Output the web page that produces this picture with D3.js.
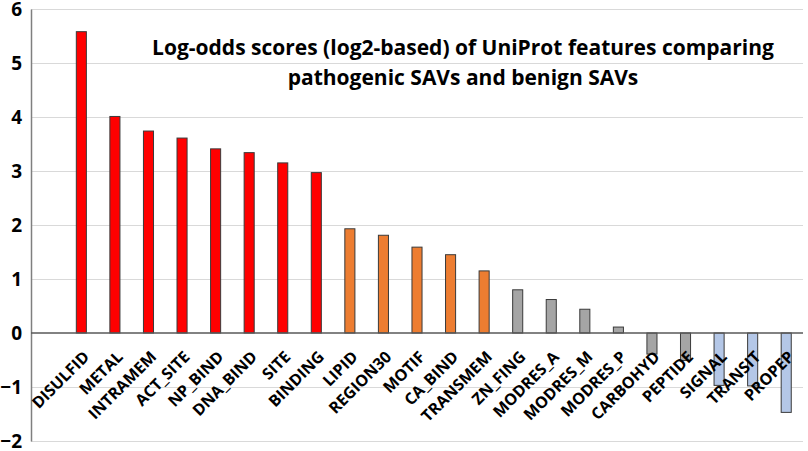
<!DOCTYPE html>
<html>
<head>
<meta charset="utf-8">
<script src="https://cdn.jsdelivr.net/npm/d3@7"></script>
<style>
  body { margin: 0; background: #fff; }
  text { font-family: "Open Sans", sans-serif; font-weight: bold; fill: #000; }
</style>
</head>
<body>
<script>
// features, ordered as in the figure
var features = ["DISULFID", "METAL", "INTRAMEM", "ACT_SITE", "NP_BIND", "DNA_BIND", "SITE", "BINDING",
                "LIPID", "REGION30", "MOTIF", "CA_BIND", "TRANSMEM",
                "ZN_FING", "MODRES_A", "MODRES_M", "MODRES_P", "CARBOHYD", "PEPTIDE",
                "SIGNAL", "TRANSIT", "PROPEP"];
// log2 odds
var scores = [5.58, 4.01, 3.74, 3.61, 3.41, 3.34, 3.15, 2.97,
              1.93, 1.81, 1.59, 1.45, 1.15,
              0.80, 0.62, 0.44, 0.11, -0.39, -0.51,
              -0.97, -0.98, -1.47];
// colour group of each bar
var groups = ["high", "high", "high", "high", "high", "high", "high", "high",
              "mid", "mid", "mid", "mid", "mid",
              "low", "low", "low", "low", "low", "low",
              "neg", "neg", "neg"];
var yTicks = [-2, -1, 0, 1, 2, 3, 4, 5, 6];
var titleLines = ["Log-odds scores (log2-based) of UniProt features comparing",
                  "pathogenic SAVs and benign SAVs"];

var W = 808, H = 451;
var plotLeft = 31, plotRight = 803, plotTop = 9, plotBottom = 441;
var bandW = (plotRight - plotLeft) / (features.length + 1);

var groupColor = {high: "#ff0000", mid: "#ed7d31", low: "#a5a5a5", neg: "#b4c7e7"};

var data = features.map((f, i) => ({name: f, value: scores[i], group: groups[i]}));

var svg = d3.select("body").append("svg")
    .attr("width", W)
    .attr("height", H);

var x = d3.scaleBand()
    .domain(features)
    .range([plotLeft + bandW, plotRight])
    .paddingInner(0.7)
    .paddingOuter(0.35);

var y = d3.scaleLinear()
    .domain([-2, 6])
    .range([plotBottom, plotTop]);

// gridlines
svg.append("g")
    .selectAll("line")
    .data(yTicks.filter(t => t !== 0))
    .join("line")
    .attr("x1", plotLeft)
    .attr("x2", plotRight)
    .attr("y1", d => y(d) + 0.5)
    .attr("y2", d => y(d) + 0.5)
    .attr("stroke", "#d9d9d9")
    .attr("stroke-width", 1);

// y axis
var yAxis = svg.append("g")
    .attr("transform", "translate(" + plotLeft + ",0)")
    .call(d3.axisLeft(y).tickValues(yTicks).tickSize(0).tickPadding(9));
yAxis.select(".domain").attr("stroke", "#7f7f7f").attr("stroke-width", 1.5);
yAxis.selectAll("text")
    .style("font-size", "19px")
    .style("font-family", "Open Sans, sans-serif")
    .style("font-weight", "bold")
    .attr("fill", "#000");

// bars
svg.append("g")
    .selectAll("rect")
    .data(data)
    .join("rect")
    .attr("x", d => x(d.name))
    .attr("width", x.bandwidth())
    .attr("y", d => y(Math.max(0, d.value)))
    .attr("height", d => Math.abs(y(d.value) - y(0)))
    .attr("fill", d => groupColor[d.group])
    .attr("stroke", "#3a3a3a")
    .attr("stroke-width", 1);

// zero line
svg.append("line")
    .attr("x1", plotLeft)
    .attr("x2", plotRight)
    .attr("y1", y(0))
    .attr("y2", y(0))
    .attr("stroke", "#595959")
    .attr("stroke-width", 1.5);

// category labels, rotated
svg.append("g")
    .selectAll("text")
    .data(data)
    .join("text")
    .attr("transform", d => "translate(" + (x(d.name) + x.bandwidth() / 2 + 1) + "," + (y(0) + 17) + ") rotate(-45)")
    .attr("text-anchor", "end")
    .attr("dy", "0.7em")
    .style("font-size", "16px")
    .text(d => d.name);

// title
svg.append("g")
    .selectAll("text")
    .data(titleLines)
    .join("text")
    .attr("x", 463)
    .attr("y", (d, i) => 55 + i * 30)
    .attr("text-anchor", "middle")
    .style("font-size", "21px")
    .text(d => d);
</script>
</body>
</html>
